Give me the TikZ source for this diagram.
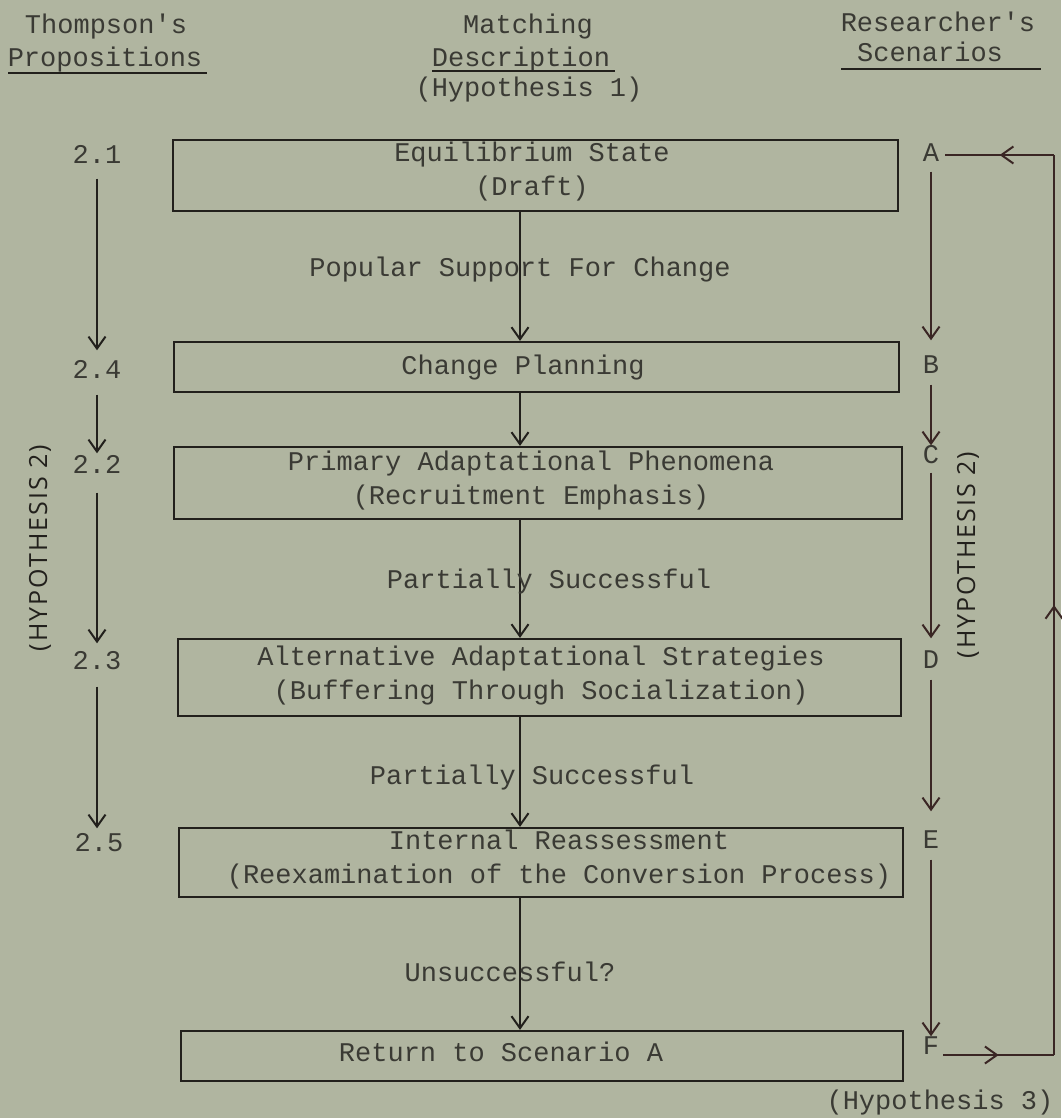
\documentclass[tikz,border=0pt]{standalone}
\usepackage{fontspec}
\newfontfamily\tw{Liberation Mono}
\newfontfamily\hand[LetterSpace=8]{Open Sans}
\usetikzlibrary{arrows.meta,decorations.markings}
\definecolor{paper}{RGB}{176,181,160}
\definecolor{ink}{RGB}{58,58,52}
\definecolor{lineink}{RGB}{34,32,28}
\definecolor{brownink}{RGB}{58,38,36}
\begin{document}
\begin{tikzpicture}[x=1pt,y=-1pt,
  txt/.style={font=\tw\fontsize{27}{34}\selectfont, text=ink, inner sep=0pt, align=center},
  lab/.style={txt, text height=18pt, text depth=5pt},
  box/.style={draw=lineink, line width=2.2pt, inner sep=0pt},
  tip/.style={-{Straight Barb[length=12pt,width=17pt,line width=2pt]}},
  arr/.style={draw=lineink, line width=1.8pt, tip},
  barr/.style={draw=brownink, line width=2pt, tip},
  midarrow/.style={postaction={decorate},
    decoration={markings, mark=at position 0.5 with {\arrow{Straight Barb[length=12pt,width=17pt,line width=2pt]}}}},
  hyp/.style={font=\hand\fontsize{25}{28}\selectfont, text=lineink, rotate=90, inner sep=0pt}
]
\fill[paper] (0,0) rectangle (1061,1118);
\useasboundingbox (0,0) rectangle (1061,1118);

% headers
\node[lab] (hT) at (106,27) {Thompson's};
\node[lab] (hP) at (105,60) {Propositions};
\node[lab] (hM) at (528,27) {Matching};
\node[lab] (hD) at (521,60) {Description};
\node[lab] (hH) at (529,90) {(Hypothesis 1)};
\node[lab] (hR) at (938,25) {Researcher's};
\node[lab] (hS) at (930,55) {Scenarios};
\draw[lineink, line width=2.2pt] (8,73) -- (207,73);
\draw[lineink, line width=2.2pt] (432,71) -- (615,71);
\draw[lineink, line width=2.2pt] (841,69) -- (1041,69);

% boxes
\node[box, minimum width=725pt, minimum height=71pt] (b1) at (535.5,175.5) {};
\node[box, minimum width=725pt, minimum height=50pt] (b2) at (536.5,367) {};
\node[box, minimum width=728pt, minimum height=72pt] (b3) at (538,483) {};
\node[box, minimum width=723pt, minimum height=77pt] (b4) at (539.5,677.5) {};
\node[box, minimum width=724pt, minimum height=69pt] (b5) at (541,862.5) {};
\node[box, minimum width=722pt, minimum height=50pt] (b6) at (542,1056) {};

% box texts
\node[txt] (t1) at (532,172) {Equilibrium State\\(Draft)};
\node[lab] (t2) at (523,368) {Change Planning};
\node[txt] (t3) at (531,481) {Primary Adaptational Phenomena\\(Recruitment Emphasis)};
\node[txt] (t4) at (541,676) {Alternative Adaptational Strategies\\(Buffering Through Socialization)};
\node[txt] (t5) at (559,860) {Internal Reassessment\\(Reexamination of the Conversion Process)};
\node[lab] (t6) at (501,1055) {Return to Scenario A};

% central connectors
\coordinate (mx) at (520,0);
\draw[arr] (b1.south -| mx) -- (b2.north -| mx);
\draw[arr] (b2.south -| mx) -- (b3.north -| mx);
\draw[arr] (b3.south -| mx) -- (b4.north -| mx);
\draw[arr] (b4.south -| mx) -- (b5.north -| mx);
\draw[arr] (b5.south -| mx) -- (b6.north -| mx);
\node[lab] (l1) at (520,270) {Popular Support For Change};
\node[lab] (l2) at (549,582) {Partially Successful};
\node[lab] (l3) at (532,778) {Partially Successful};
\node[lab] (l4) at (510,975) {Unsuccessful?};

% left column
\node[lab] (n21) at (97,157) {2.1};
\node[lab] (n24) at (97,372) {2.4};
\node[lab] (n22) at (97,467) {2.2};
\node[lab] (n23) at (97,663) {2.3};
\node[lab] (n25) at (99,845) {2.5};
\draw[arr, shorten <=10pt, shorten >=10pt] (n21.south -| n21) -- (n24.north -| n21);
\draw[arr, shorten <=11pt, shorten >=2pt] (n24.south -| n21) -- (n22.north -| n21);
\draw[arr, shorten <=14pt, shorten >=8pt] (n22.south -| n21) -- (n23.north -| n21);
\draw[arr, shorten <=12pt, shorten >=5pt] (n23.south -| n21) -- (n25.north -| n21);
\node[hyp] (hy1) at (40,548) {(HYPOTHESIS 2)};

% right column
\node[lab] (sA) at (931,155) {A};
\node[lab] (sB) at (931,367) {B};
\node[lab] (sC) at (931,457) {C};
\node[lab] (sD) at (931,662) {D};
\node[lab] (sE) at (931,842) {E};
\node[lab] (sF) at (931,1048) {F};
\draw[barr, shorten <=5pt, shorten >=15pt] (sA) -- (sB);
\draw[barr, shorten <=6pt, shorten >=0pt] (sB) -- (sC);
\draw[barr, shorten <=4pt, shorten >=12pt] (sC) -- (sD);
\draw[barr, shorten <=6pt, shorten >=19pt] (sD) -- (sE);
\draw[barr, shorten <=6pt, shorten >=0pt] (sE) -- (sF);
\node[hyp] (hy2) at (968,555) {(HYPOTHESIS 2)};

% return loop
\coordinate (cF) at (1054,1055);
\coordinate (cA) at (1054,155);
\draw[draw=brownink, line width=2pt, midarrow] (sF.east |- cF) ++(4,0) -- (cF);
\draw[draw=brownink, line width=2pt, midarrow] (cF) -- (cA);
\draw[draw=brownink, line width=2pt, midarrow] (cA) -- ([xshift=6pt]sA.east |- cA);
\node[lab] (h3) at (940,1103) {(Hypothesis 3)};
\end{tikzpicture}
\end{document}
